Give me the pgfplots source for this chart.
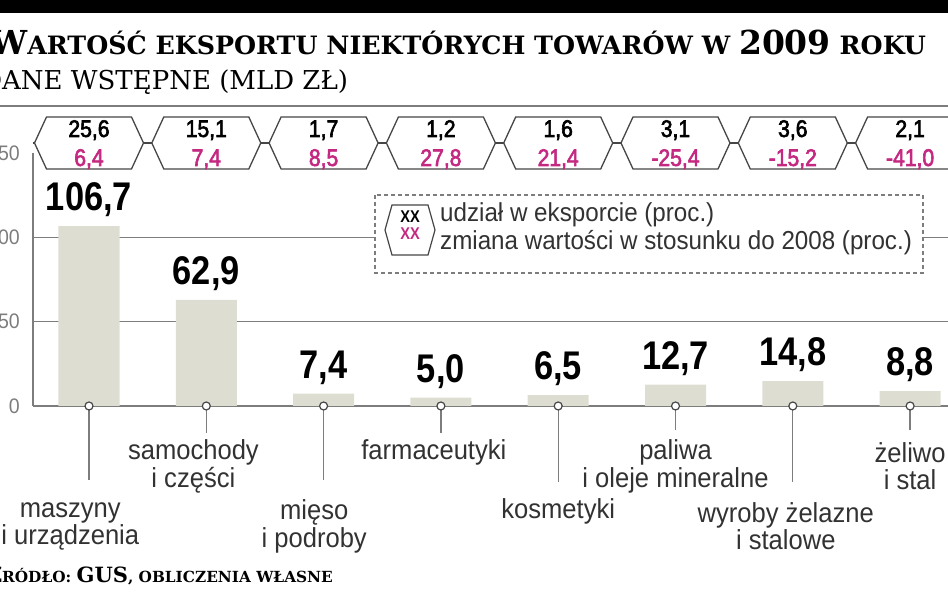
\documentclass[border=0pt]{standalone}
\usepackage{fontspec}
\usepackage{pgfplots}
\pgfplotsset{compat=1.18}
\usepackage{pgfplotstable}
\setmainfont{Liberation Sans}[FakeStretch=0.93]
\newfontfamily\numfont{Liberation Sans}[FakeStretch=0.86]
\newfontfamily\hexfont{Liberation Sans}[FakeStretch=0.88, FakeBold=2.5]
\newfontfamily\titlefont{DejaVu Serif}
\definecolor{barc}{RGB}{222,221,210}
\definecolor{pinkc}{RGB}{196,40,128}
\definecolor{gridc}{RGB}{125,125,125}
\definecolor{hexc}{RGB}{70,70,70}
\definecolor{txtc}{RGB}{50,50,50}
\newcommand{\fs}[1]{\fontsize{#1}{#1}\selectfont}

\pgfdeclareplotmark{hexa}{%
  \pgfpathmoveto{\pgfqpoint{-54.5pt}{0pt}}%
  \pgfpathlineto{\pgfqpoint{-42.5pt}{26pt}}%
  \pgfpathlineto{\pgfqpoint{42.5pt}{26pt}}%
  \pgfpathlineto{\pgfqpoint{54.5pt}{0pt}}%
  \pgfpathlineto{\pgfqpoint{42.5pt}{-26pt}}%
  \pgfpathlineto{\pgfqpoint{-42.5pt}{-26pt}}%
  \pgfpathclose
  \pgfusepathqfillstroke}

\pgfplotstableread{
x v
0 106.7
1 62.9
2 7.4
3 5.0
4 6.5
5 12.7
6 14.8
7 8.8
}\bardata

\pgfplotstableread{
x ly share change
0 156 25.6 6.4
1 156 15.1 7.4
2 156 1.7 8.5
3 156 1.2 27.8
4 156 1.6 21.4
5 156 3.1 -25.4
6 156 3.6 -15.2
7 156 2.1 -41.0
}\hexdata

\pgfplotstableread{
x top bottom
0 0 -44
1 0 -16
2 0 -44
3 0 -16
4 0 -45
5 0 -14
6 0 -45
7 0 -14
}\combdata

\begin{document}
\begin{tikzpicture}
\fill[black] (0pt,580pt) rectangle (948pt,593pt);
\node[anchor=base west, inner sep=0pt] at (-10pt,538pt)
  {\titlefont\bfseries\fs{33}W\fs{25.3}ARTOŚĆ EKSPORTU NIEKTÓRYCH TOWARÓW W \fs{33}2009\fs{25.3} ROKU};
\node[anchor=base west, inner sep=0pt] at (2pt,503pt)
  {\titlefont\fs{26}\llap{D}ANE WSTĘPNE (MLD ZŁ)};
\draw[gridc, line width=1.8pt] (0pt,487pt) -- (948pt,487pt);

\begin{axis}[
  at={(89pt,187pt)}, anchor=origin,
  x=117.3pt, y=1.686pt,
  xmin=-0.477, xmax=7.7, ymin=0, ymax=150,
  axis x line=none, axis y line=left,
  y axis line style={-, draw=gridc, line width=1.5pt},
  ytick={0,50,100}, extra y ticks={150}, extra y tick style={grid=none},
  ymajorgrids, major grid style={draw=gridc, line width=1.5pt},
  major tick length=0pt,
  yticklabel style={font=\fs{21}, text=gridc, anchor=east, inner sep=0pt, xshift=-13pt},
  /pgf/number format/assume math mode=true,
  clip=false,
]
\addplot[ybar, bar width=61pt, fill=barc, draw=none,
  nodes near coords={\pgfmathprintnumber[fixed,fixed zerofill,precision=1,use comma]{\pgfplotspointmeta}},
  nodes near coords style={font=\numfont\bfseries\fs{40}, text=black, anchor=south, inner sep=0pt, yshift=9pt}]
  table[x=x,y=v]{\bardata};
\addplot[ycomb, draw=gridc, line width=1.3pt, mark=none] table[x=x,y=bottom]{\combdata};
\addplot[only marks, mark=*, mark size=4pt, mark options={fill=white, draw=hexc, line width=1.2pt}]
  table[x=x,y=top]{\combdata};
\addplot[hexc, line width=1.3pt, mark=none] coordinates {(-0.48,156) (7.7,156)};
\addplot[only marks, mark=hexa, mark options={fill=white, draw=hexc, line width=1.3pt}]
  table[x=x,y=ly]{\hexdata};
\addplot[draw=none, mark=none, point meta=explicit,
  nodes near coords={\pgfmathprintnumber[fixed,fixed zerofill,precision=1,use comma]{\pgfplotspointmeta}},
  nodes near coords style={font=\hexfont\fs{24}, text=black, anchor=base, inner sep=0pt, yshift=6pt}]
  table[x=x,y=ly,meta=share]{\hexdata};
\addplot[draw=none, mark=none, point meta=explicit,
  nodes near coords={\pgfmathprintnumber[fixed,fixed zerofill,precision=1,use comma]{\pgfplotspointmeta}},
  nodes near coords style={font=\hexfont\fs{24}, text=pinkc, anchor=base, inner sep=0pt, yshift=-23pt}]
  table[x=x,y=ly,meta=change]{\hexdata};
\addplot[draw=none, mark=none, point meta=explicit symbolic, nodes near coords,
  nodes near coords style={font=\fs{27.5}, text=txtc, anchor=center, align=center, inner sep=0pt}]
  coordinates {
  (-0.16,-71.4) [maszyny\\i urządzenia]
  (0.89,-35.7) [samochody\\i części]
  (1.92,-71.4) [mięso\\i podroby]
  (2.94,-27.7) [farmaceutyki]
  (4.0,-62.5) [kosmetyki]
  (5.0,-35.7) [paliwa\\i oleje mineralne]
  (5.94,-71.4) [wyroby żelazne\\i stalowe]
  (7.0,-35.7) [żeliwo\\i stal]
  };
\end{axis}

% legend
\draw[gridc, line width=1.2pt, dash pattern=on 4pt off 3pt, fill=white] (375pt,398pt) rectangle (923pt,320pt);
\draw[fill=white, draw=hexc, line width=1.2pt] (385pt,363pt) -- (392pt,388pt) -- (428pt,388pt) -- (435pt,363pt) -- (428pt,338pt) -- (392pt,338pt) -- cycle;
\node[inner sep=0pt, font=\numfont\bfseries\fs{17}] at (410pt,376pt) {XX};
\node[inner sep=0pt, font=\numfont\bfseries\fs{17}, text=pinkc] at (410pt,359pt) {XX};
\node[anchor=west, inner sep=0pt, font=\fs{26}, text=txtc] at (440pt,378pt) {udział w eksporcie (proc.)};
\node[anchor=west, inner sep=0pt, font=\fs{26}, text=txtc] at (440pt,350pt) {zmiana wartości w stosunku do 2008 (proc.)};

% source
\node[anchor=base west, inner sep=0pt] at (2pt,10pt)
  {\titlefont\bfseries\llap{\fs{21}Ź}\fs{15.3}RÓDŁO: \fs{21}GUS\fs{15.3}, OBLICZENIA WŁASNE};

\pgfresetboundingbox
\path[use as bounding box] (0pt,0pt) rectangle (948pt,593pt);
\end{tikzpicture}
\end{document}
